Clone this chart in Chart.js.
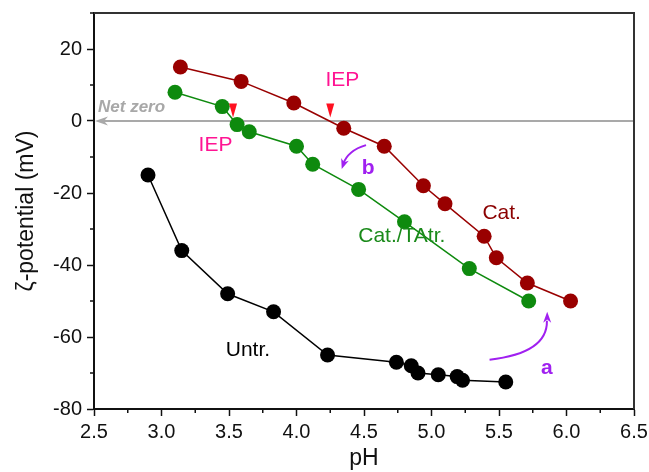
<!DOCTYPE html>
<html>
<head>
<meta charset="utf-8">
<script src="https://cdn.jsdelivr.net/npm/chart.js@4"></script>
<style>
  html, body { margin: 0; padding: 0; background: #fff; }
  #wrap { width: 649px; height: 472px; }
</style>
</head>
<body>
<div id="wrap"><canvas id="zeta"></canvas></div>
<script>
// pH / zeta-potential readings
const untrPH = [2.90, 3.15, 3.49, 3.83, 4.23, 4.74, 4.85, 4.90, 5.05, 5.19, 5.23, 5.55];
const untrZeta = [-15, -36, -48, -53, -65, -67, -68, -70, -70.5, -71, -72, -72.5];

const tatrPH = [3.10, 3.45, 3.56, 3.65, 4.00, 4.12, 4.46, 4.80, 5.28, 5.72];
const tatrZeta = [8, 4, -1, -3, -7, -12, -19, -28, -41, -50];

const catPH = [3.14, 3.59, 3.98, 4.35, 4.65, 4.94, 5.10, 5.39, 5.48, 5.71, 6.03];
const catZeta = [15, 11, 5, -2, -7, -18, -23, -32, -38, -45, -50];

// isoelectric points (pH) marked with red triangles
const iepPH = [3.53, 4.25];

const xTicks = [2.5, 3.0, 3.5, 4.0, 4.5, 5.0, 5.5, 6.0, 6.5];
const yTicks = [-80, -60, -40, -20, 0, 20];

const FONT = "'Liberation Sans', Arial, sans-serif";

function pts(xs, ys) {
    return xs.map((x, i) => ({ x: x, y: ys[i] }));
}

function series(label, xs, ys, color) {
    return {
        label: label,
        data: pts(xs, ys),
        borderColor: color,
        backgroundColor: color,
        borderWidth: 1.5,
        pointRadius: 7.5,
        pointBorderWidth: 0,
        showLine: true,
        tension: 0
    };
}

function arrowHead(ctx, x, y, angle, len, wid, color) {
    ctx.save();
    ctx.translate(x, y);
    ctx.rotate(angle);
    ctx.fillStyle = color;
    ctx.beginPath();
    ctx.moveTo(0, 0);
    ctx.lineTo(-len, -wid / 2);
    ctx.lineTo(-len * 0.7, 0);
    ctx.lineTo(-len, wid / 2);
    ctx.closePath();
    ctx.fill();
    ctx.restore();
}

// draws net-zero line, frame, minor ticks and text labels
const decor = {
    id: "decor",
    beforeDatasetsDraw(chart) {
        const { ctx, chartArea: a, scales: { x, y } } = chart;
        const y0 = y.getPixelForValue(0);
        ctx.save();
        ctx.strokeStyle = "#a9a9a9";
        ctx.lineWidth = 2;
        ctx.beginPath();
        ctx.moveTo(a.right, y0);
        ctx.lineTo(a.left + 8, y0);
        ctx.stroke();
        arrowHead(ctx, a.left + 1, y0, Math.PI, 13, 9, "#a9a9a9");
        ctx.restore();
    },
    afterDraw(chart) {
        const { ctx, chartArea: a, scales: { x, y } } = chart;
        ctx.save();
        // frame top and right
        ctx.strokeStyle = "#333";
        ctx.lineWidth = 2;
        ctx.beginPath();
        ctx.moveTo(a.left, a.top);
        ctx.lineTo(a.right, a.top);
        ctx.lineTo(a.right, a.bottom);
        ctx.stroke();

        // minor ticks
        ctx.strokeStyle = "#111";
        ctx.lineWidth = 1.5;
        ctx.beginPath();
        for (let v = 2.75; v < 6.5; v += 0.5) {
            const px = x.getPixelForValue(v);
            ctx.moveTo(px, a.bottom);
            ctx.lineTo(px, a.bottom + 4);
        }
        for (let v = -70; v <= 30; v += 20) {
            const py = y.getPixelForValue(v);
            ctx.moveTo(a.left, py);
            ctx.lineTo(a.left - 4, py);
        }
        ctx.stroke();

        // IEP triangles
        ctx.fillStyle = "#ff1020";
        iepPH.forEach(p => {
            const px = x.getPixelForValue(p);
            const tip = y.getPixelForValue(1);
            ctx.beginPath();
            ctx.moveTo(px, tip);
            ctx.lineTo(px - 4, tip - 14);
            ctx.lineTo(px + 4, tip - 14);
            ctx.closePath();
            ctx.fill();
        });

        const text = (s, vx, vy, color, font) => {
            ctx.fillStyle = color;
            ctx.font = font;
            ctx.textAlign = "center";
            ctx.textBaseline = "middle";
            ctx.fillText(s, x.getPixelForValue(vx), y.getPixelForValue(vy));
        };
        ctx.textAlign = "left";
        ctx.textBaseline = "middle";
        ctx.font = "italic bold 17px " + FONT;
        ctx.fillStyle = "#a8a8a8";
        ctx.fillText("Net zero", x.getPixelForValue(2.53), y.getPixelForValue(3.8));

        const lab = "21px " + FONT;
        text("IEP", 3.40, -6.7, "#ff1493", lab);
        text("IEP", 4.34, 11.4, "#ff1493", lab);
        text("Cat.", 5.52, -25.6, "#8b0000", lab);
        text("Cat./TAtr.", 4.78, -32, "#1a8a1a", lab);
        text("Untr.", 3.64, -63.6, "#000", lab);
        text("b", 4.53, -13.2, "#a020f0", "bold 21px " + FONT);
        text("a", 5.855, -68.8, "#a020f0", "bold 21px " + FONT);

        // curved arrows
        const purple = "#a020f0";
        ctx.strokeStyle = purple;
        ctx.lineWidth = 2;
        let sx = x.getPixelForValue(4.515), sy = y.getPixelForValue(-6.7);
        let cx = x.getPixelForValue(4.38), cy = y.getPixelForValue(-8.2);
        let ex = x.getPixelForValue(4.345), ey = y.getPixelForValue(-12.0);
        ctx.beginPath();
        ctx.moveTo(sx, sy);
        ctx.quadraticCurveTo(cx, cy, ex, ey);
        ctx.stroke();
        arrowHead(ctx, x.getPixelForValue(4.335), y.getPixelForValue(-13.3), Math.atan2(ey - cy, ex - cx), 10, 8, purple);

        sx = x.getPixelForValue(5.43); sy = y.getPixelForValue(-66.3);
        cx = x.getPixelForValue(5.86); cy = y.getPixelForValue(-64.5);
        ex = x.getPixelForValue(5.855); ey = y.getPixelForValue(-55.5);
        ctx.beginPath();
        ctx.moveTo(sx, sy);
        ctx.quadraticCurveTo(cx, cy, ex, ey);
        ctx.stroke();
        arrowHead(ctx, x.getPixelForValue(5.857), y.getPixelForValue(-53.0), -Math.PI / 2, 11, 8, purple);
        ctx.restore();
    }
};

new Chart(document.getElementById("zeta"), {
    type: "scatter",
    data: {
        datasets: [
            series("Untr.", untrPH, untrZeta, "#000000"),
            series("Cat./TAtr.", tatrPH, tatrZeta, "#0e8a0e"),
            series("Cat.", catPH, catZeta, "#990000")
        ]
    },
    options: {
        responsive: true,
        maintainAspectRatio: false,
        animation: false,
        layout: { padding: { left: 0, right: 15, top: 13, bottom: 0 } },
        plugins: {
            legend: { display: false },
            tooltip: { enabled: false }
        },
        scales: {
            x: {
                type: "linear",
                min: 2.5,
                max: 6.5,
                afterBuildTicks: s => { s.ticks = xTicks.map(v => ({ value: v })); },
                afterFit: s => { s.height = 63; s.paddingLeft = 0; s.paddingRight = 0; },
                grid: { drawOnChartArea: false, drawTicks: true, tickLength: 7, tickWidth: 1.5, tickColor: "#111" },
                border: { display: true, color: "#111", width: 2 },
                ticks: {
                    color: "#111",
                    font: { family: FONT, size: 20 },
                    padding: 4,
                    maxRotation: 0,
                    callback: v => v.toFixed(1)
                },
                title: {
                    display: true,
                    text: "pH",
                    color: "#111",
                    font: { family: FONT, size: 23 },
                    padding: { top: 0, bottom: 0 }
                }
            },
            y: {
                type: "linear",
                min: -80,
                max: 30,
                afterBuildTicks: s => { s.ticks = yTicks.map(v => ({ value: v })); },
                afterFit: s => { s.width = 94; s.paddingTop = 0; s.paddingBottom = 0; },
                grid: { drawOnChartArea: false, drawTicks: true, tickLength: 7, tickWidth: 1.5, tickColor: "#111" },
                border: { display: true, color: "#111", width: 2 },
                ticks: {
                    color: "#111",
                    font: { family: FONT, size: 20 },
                    padding: 5
                },
                title: {
                    display: true,
                    text: "ζ-potential (mV)",
                    color: "#111",
                    font: { family: FONT, size: 23 },
                    padding: { top: 13, bottom: 0 }
                }
            }
        }
    },
    plugins: [decor]
});
</script>
</body>
</html>
